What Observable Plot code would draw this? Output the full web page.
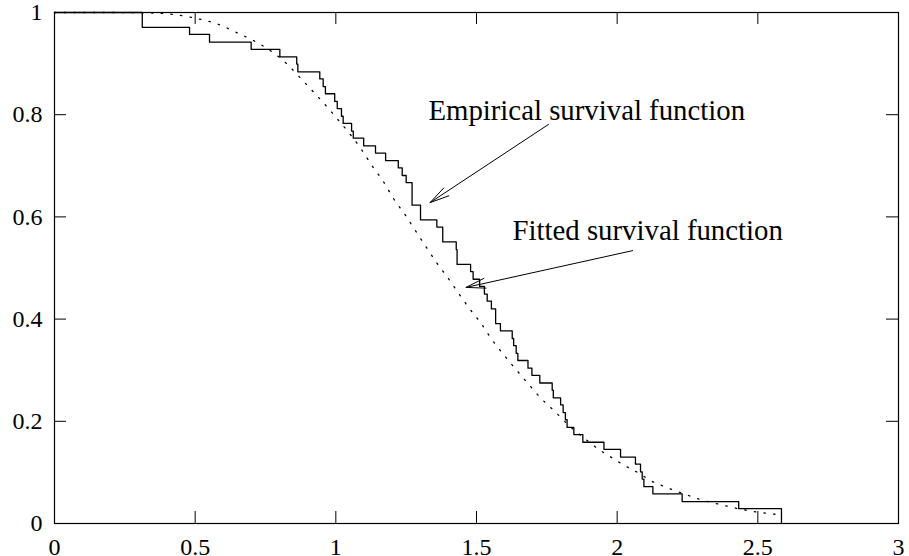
<!DOCTYPE html>
<html><head><meta charset="utf-8">
<script src="https://cdn.jsdelivr.net/npm/d3@7"></script>
<script src="https://cdn.jsdelivr.net/npm/@observablehq/plot@0.6"></script>
<style>html,body{margin:0;padding:0;background:#fff;} svg{display:block}</style>
</head><body><div id="chart"></div>
<script>
// Tick values
const xTicks = [0, 0.5, 1, 1.5, 2, 2.5, 3];
const yTicks = [0, 0.2, 0.4, 0.6, 0.8, 1];

// Empirical survival function: time of each drop and survival level after it
const stepTimes = [0, 0.312, 0.480, 0.551, 0.699, 0.801, 0.861, 0.865, 0.943, 0.955, 0.963, 0.996, 1.005, 1.020, 1.026, 1.056, 1.062, 1.099, 1.141, 1.177, 1.222, 1.236, 1.250, 1.271, 1.301, 1.359, 1.380, 1.428, 1.431, 1.479, 1.488, 1.511, 1.528, 1.538, 1.553, 1.568, 1.585, 1.627, 1.632, 1.641, 1.647, 1.683, 1.697, 1.725, 1.769, 1.773, 1.799, 1.808, 1.816, 1.822, 1.846, 1.878, 1.953, 2.012, 2.065, 2.083, 2.089, 2.095, 2.127, 2.231, 2.432, 2.584];
const stepSurv  = [1, 0.971, 0.957, 0.942, 0.928, 0.913, 0.899, 0.884, 0.870, 0.855, 0.841, 0.826, 0.812, 0.797, 0.783, 0.768, 0.754, 0.739, 0.725, 0.710, 0.696, 0.681, 0.667, 0.623, 0.594, 0.580, 0.551, 0.536, 0.507, 0.493, 0.478, 0.464, 0.449, 0.435, 0.420, 0.391, 0.377, 0.362, 0.348, 0.333, 0.319, 0.304, 0.290, 0.275, 0.261, 0.246, 0.232, 0.217, 0.203, 0.188, 0.174, 0.159, 0.145, 0.130, 0.116, 0.101, 0.087, 0.072, 0.058, 0.043, 0.029, 0];

// Fitted survival function
const fitX = [0, 0.2, 0.352, 0.4905, 0.5865, 0.650, 0.711, 0.771, 0.825, 0.872, 0.918, 0.963, 1.008, 1.052, 1.091, 1.130, 1.168, 1.206, 1.244, 1.283, 1.321, 1.360, 1.398, 1.437, 1.476, 1.517, 1.556, 1.597, 1.641, 1.686, 1.731, 1.781, 1.828, 1.881, 1.935, 1.992, 2.021, 2.085, 2.112, 2.174, 2.237, 2.302, 2.367, 2.468, 2.58];
const fitY = [1, 1, 0.999, 0.990, 0.976, 0.960, 0.944, 0.924, 0.900, 0.873, 0.846, 0.819, 0.790, 0.761, 0.732, 0.699, 0.670, 0.635, 0.606, 0.573, 0.541, 0.509, 0.481, 0.450, 0.420, 0.391, 0.359, 0.330, 0.301, 0.272, 0.244, 0.218, 0.192, 0.168, 0.145, 0.125, 0.115, 0.096, 0.086, 0.071, 0.058, 0.046, 0.037, 0.025, 0.017];

const labelTexts = ["Empirical survival function", "Fitted survival function"];

const stepData = stepTimes.map((t, i) => ({x: t, y: stepSurv[i]}));
const fitData = fitX.map((t, i) => ({x: t, y: fitY[i]}));

const W = 909, H = 556, ML = 54, MR = 11, MT = 12, MB = 33;
const innerW = W - ML - MR, innerH = H - MT - MB;
const TICK = 12;
const fmt = d => `${d}`;

const chart = Plot.plot({
  width: W, height: H,
  marginLeft: ML, marginRight: MR, marginTop: MT, marginBottom: MB,
  style: {fontFamily: "'Liberation Serif', 'Times New Roman', serif", fontSize: "24px", background: "white", color: "black"},
  x: {domain: [0, 3], label: null},
  y: {domain: [0, 1], label: null},
  marks: [
    Plot.axisX(xTicks, {tickSize: 0, tickPadding: 14, fontSize: 24, tickFormat: fmt, label: null}),
    Plot.axisY(yTicks, {tickSize: 0, tickPadding: 12, fontSize: 24, tickFormat: fmt, label: null}),
    // inward ticks on all four sides
    Plot.tickY(yTicks, {y: d => d, insetRight: innerW - TICK, stroke: "black"}),
    Plot.tickY(yTicks, {y: d => d, insetLeft: innerW - TICK, stroke: "black"}),
    Plot.tickX(xTicks, {x: d => d, insetTop: innerH - TICK, stroke: "black"}),
    Plot.tickX(xTicks, {x: d => d, insetBottom: innerH - TICK, stroke: "black"}),
    Plot.line(fitData, {x: "x", y: "y", curve: "monotone-x", stroke: "black", strokeWidth: 1.3, strokeDasharray: "1.4,8.3"}),
    Plot.line(stepData, {x: "x", y: "y", curve: "step-after", stroke: "black", strokeWidth: 1.3}),
    Plot.text([labelTexts[0]], {x: 1.329, y: 0.789, text: d => d, textAnchor: "start", lineAnchor: "bottom", fontSize: 28.8, fill: "black"}),
    Plot.text([labelTexts[1]], {x: 1.628, y: 0.554, text: d => d, textAnchor: "start", lineAnchor: "bottom", fontSize: 28.8, fill: "black"}),
    Plot.arrow([0], {x1: 1.756, y1: 0.781, x2: 1.335, y2: 0.628, headLength: 30, headAngle: 27, stroke: "black", strokeWidth: 1}),
    Plot.arrow([0], {x1: 2.055, y1: 0.534, x2: 1.463, y2: 0.462, headLength: 30, headAngle: 29, stroke: "black", strokeWidth: 1}),
    Plot.frame({stroke: "black", strokeWidth: 1.2})
  ]
});
document.getElementById("chart").appendChild(chart);
</script>
</body></html>
